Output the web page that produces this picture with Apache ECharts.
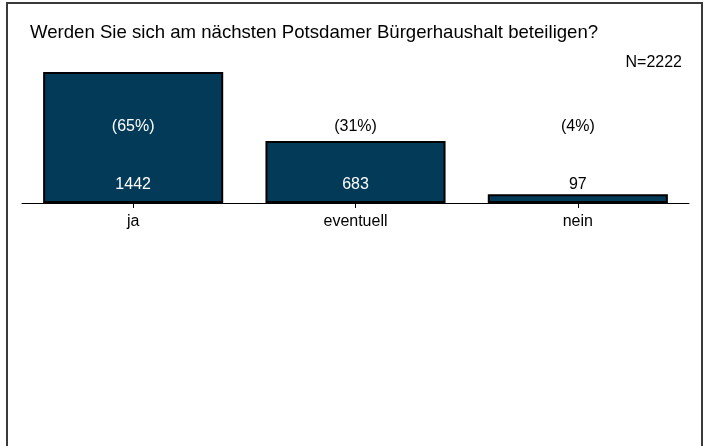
<!DOCTYPE html>
<html>
<head>
<meta charset="utf-8">
<script src="https://cdn.jsdelivr.net/npm/echarts@6/dist/echarts.min.js"></script>
<style>
  html, body { margin: 0; padding: 0; background: #fff; }
  #wrap { position: relative; width: 709px; height: 446px; overflow: hidden; }
  #frame {
    position: absolute; left: 6px; top: 2px; width: 697px; height: 480px;
    border: 2px solid #3a3a3a; border-bottom: none; box-sizing: border-box;
  }
  #chart { position: absolute; left: 0; top: 0; width: 709px; height: 446px; }
</style>
</head>
<body>
<div id="wrap">
  <div id="frame"></div>
  <div id="chart"></div>
</div>
<script>
// Daten
const categories = ['ja', 'eventuell', 'nein'];
const counts = [1442, 683, 97];
const percents = [65, 31, 4];
const total = 2222;

const barColor = '#023a58';
// weiße Schrift innerhalb der Balken, schwarz darüber
const countColors = ['#fff', '#fff', '#000'];
const pctColors = ['#fff', '#000', '#000'];

const myChart = echarts.init(document.getElementById('chart'));
const font = 'Liberation Sans, Arial, sans-serif';

const option = {
  animation: false,
  title: [
    {
      text: 'Werden Sie sich am nächsten Potsdamer Bürgerhaushalt beteiligen?',
      left: 25,
      top: 18,
      textStyle: { fontFamily: font, fontSize: 18.6, fontWeight: 'normal', color: '#000' }
    },
    {
      text: 'N=' + total,
      right: 22,
      top: 50,
      textStyle: { fontFamily: font, fontSize: 16, fontWeight: 'normal', color: '#000' }
    }
  ],
  grid: { left: 22, right: 20, top: 72, bottom: 243 },
  xAxis: {
    type: 'category',
    data: categories,
    axisLine: { lineStyle: { color: '#000', width: 1 } },
    axisTick: { show: true, alignWithLabel: true, length: 5, lineStyle: { color: '#000' } },
    axisLabel: { color: '#000', fontFamily: font, fontSize: 16, margin: 11 }
  },
  yAxis: {
    type: 'value',
    min: 0,
    max: 1442,
    show: false,
    splitLine: { show: false }
  },
  series: [
    {
      type: 'bar',
      barWidth: '81%',
      z: 2,
      itemStyle: { color: barColor, borderColor: '#000', borderWidth: 2 },
      label: {
        show: true,
        position: 'insideBottom',
        distance: 10,
        fontFamily: font,
        fontSize: 16
      },
      data: counts.map((v, i) => ({ value: v, label: { color: countColors[i] } }))
    },
    {
      type: 'bar',
      barWidth: '81%',
      barGap: '-100%',
      z: 3,
      silent: true,
      itemStyle: { color: 'rgba(0,0,0,0)' },
      label: {
        show: true,
        position: 'insideBottom',
        distance: 68,
        fontFamily: font,
        fontSize: 16,
        formatter: (p) => '(' + percents[p.dataIndex] + '%)'
      },
      data: counts.map((v, i) => ({ value: v, label: { color: pctColors[i] } }))
    }
  ]
};

myChart.setOption(option);
</script>
</body>
</html>
